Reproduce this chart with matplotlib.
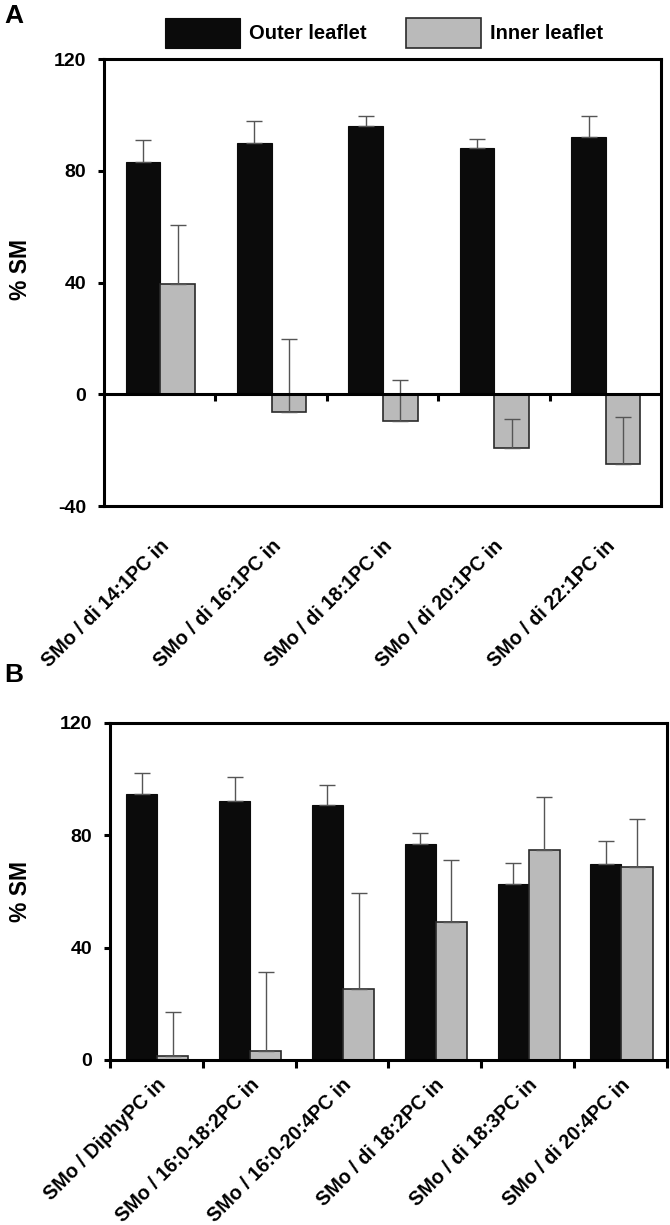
import numpy as np
import matplotlib
matplotlib.use("Agg")
import matplotlib.pyplot as plt
from matplotlib.lines import TICKDOWN

plt.rcParams["font.family"] = ["Liberation Sans", "DejaVu Sans"]
plt.rcParams["font.weight"] = "bold"
plt.rcParams["axes.unicode_minus"] = False

# Panel A data
labels_a = ["SMo / di 14:1PC in", "SMo / di 16:1PC in", "SMo / di 18:1PC in",
            "SMo / di 20:1PC in", "SMo / di 22:1PC in"]
outer_a = [83, 90, 96, 88, 92]
outer_a_err = [8, 8, 3.5, 3.3, 7.7]
inner_a = [39.5, -6.3, -9.5, -19.2, -25]
inner_a_err = [21, 26, 14.6, 10.2, 17]

# Panel B data
labels_b = ["SMo / DiphyPC in", "SMo / 16:0-18:2PC in", "SMo / 16:0-20:4PC in",
            "SMo / di 18:2PC in", "SMo / di 18:3PC in", "SMo / di 20:4PC in"]
outer_b = [94.7, 92.4, 90.9, 76.8, 62.5, 69.8]
outer_b_err = [7.5, 8.3, 7.1, 4.1, 7.8, 8.3]
inner_b = [1.5, 3.2, 25.4, 49.1, 74.9, 68.6]
inner_b_err = [15.7, 28.3, 34, 22, 18.7, 17.1]

BLACK = "#0b0b0b"
GREY = "#bababa"
EDGE = "#2a2a2a"
ERRC = "#555555"
FS_X = 14.2
FS_Y = 14


def upper_only(err):
    err = np.asarray(err, dtype=float)
    return np.vstack([np.zeros_like(err), err])


def draw_bars(ax, outer, outer_err, inner, inner_err, width, shift):
    x = np.arange(len(outer))
    ekw = dict(ecolor=ERRC, elinewidth=1.0, capsize=6, capthick=1.0)
    b1 = ax.bar(x - width / 2 + shift, outer, width, color=BLACK, edgecolor=BLACK,
                linewidth=0.8, yerr=upper_only(outer_err), error_kw=ekw, zorder=2)
    b2 = ax.bar(x + width / 2 + shift, inner, width, color=GREY, edgecolor=EDGE,
                linewidth=1.2, yerr=upper_only(inner_err), error_kw=ekw, zorder=2)
    return x, b1, b2


fig = plt.figure(figsize=(6.7, 12.25), dpi=100)

# ---- Panel A ----
ax_a = fig.add_axes([0.1552, 0.5869, 0.8313, 0.3649])
x_a, bar_out, bar_in = draw_bars(ax_a, outer_a, outer_a_err, inner_a, inner_a_err, 0.31, 0.005)
ax_a.set_xlim(-0.5, len(labels_a) - 0.5)
ax_a.set_ylim(-40, 120)
ax_a.set_yticks([-40, 0, 40, 80, 120])
ax_a.axhline(0, color="black", lw=2.2, zorder=3)
bounds_a = x_a[:-1] + 0.5
ax_a.plot(bounds_a, np.zeros(len(bounds_a)), linestyle="none", marker=TICKDOWN,
          markersize=5, markeredgewidth=2.2, color="black", clip_on=False, zorder=3)
ax_a.set_xticks(x_a)
ax_a.set_xticklabels(labels_a, rotation=45, ha="right", rotation_mode="anchor",
                     fontsize=FS_X, fontweight="bold")
ax_a.tick_params(axis="x", length=0, pad=22)
ax_a.set_ylabel("% SM", fontsize=16.5, fontweight="bold")
ax_a.yaxis.set_label_coords(-0.13, 0.53)

# ---- Panel B ----
ax_b = fig.add_axes([0.1642, 0.1347, 0.8313, 0.2751])
x_b, _, _ = draw_bars(ax_b, outer_b, outer_b_err, inner_b, inner_b_err, 0.335, 0.01)
ax_b.set_xlim(-0.5, len(labels_b) - 0.5)
ax_b.set_ylim(0, 120)
ax_b.set_yticks([0, 40, 80, 120])
ax_b.set_xticks(np.arange(len(labels_b) + 1) - 0.5)
ax_b.set_xticklabels([])
ax_b.tick_params(axis="x", which="major", length=6, width=2.2, direction="out")
ax_b.set_xticks(x_b, minor=True)
ax_b.set_xticklabels(labels_b, minor=True, rotation=45, ha="right",
                     rotation_mode="anchor", fontsize=FS_X, fontweight="bold")
ax_b.tick_params(axis="x", which="minor", length=0, pad=11)
ax_b.set_ylabel("% SM", fontsize=16.5, fontweight="bold")
ax_b.yaxis.set_label_coords(-0.14, 0.5)

for ax in (ax_a, ax_b):
    for sp in ax.spines.values():
        sp.set_linewidth(2.2)
    ax.tick_params(axis="y", length=4, width=2.2, direction="out", labelsize=FS_Y, pad=9)
    for lab in ax.get_yticklabels():
        lab.set_fontweight("bold")

fig.legend([bar_out, bar_in], ["Outer leaflet", "Inner leaflet"], loc="center",
           bbox_to_anchor=(384 / 670, 1 - 33 / 1225), ncol=2, frameon=False,
           handlelength=3.7, handleheight=1.85, handletextpad=0.45, columnspacing=2.0,
           prop={"size": 14.5, "weight": "bold"})

fig.text(0.006, 0.997, "A", fontsize=19, fontweight="bold", va="top", ha="left")
fig.text(0.006, 0.459, "B", fontsize=19, fontweight="bold", va="top", ha="left")

fig.savefig("out.png", dpi=100)
